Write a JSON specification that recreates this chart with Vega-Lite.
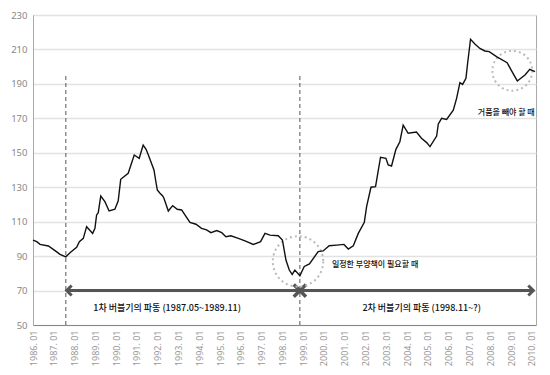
{
  "$schema": "https://vega.github.io/schema/vega-lite/v6.json",
  "width": 503,
  "height": 310,
  "autosize": "none",
  "padding": {"left": 33, "top": 15, "right": 14, "bottom": 50},
  "background": "white",
  "config": {
    "view": {"stroke": "#aaa", "strokeWidth": 1},
    "font": "Noto Sans CJK KR"
  },
  "datasets": {
    "main": [
      {"x":1986.0,"y":99.3},{"x":1986.18,"y":98.4},{"x":1986.34,"y":96.8},{"x":1986.74,"y":95.9},
      {"x":1987.06,"y":93.2},{"x":1987.3,"y":91.0},{"x":1987.58,"y":89.6},{"x":1987.78,"y":92.0},
      {"x":1988.1,"y":95.1},{"x":1988.23,"y":98.4},{"x":1988.42,"y":100.3},{"x":1988.58,"y":107.1},
      {"x":1988.87,"y":103.2},{"x":1988.98,"y":106.1},{"x":1989.06,"y":113.9},{"x":1989.14,"y":115.2},
      {"x":1989.26,"y":124.9},{"x":1989.46,"y":121.6},{"x":1989.66,"y":116.2},{"x":1989.94,"y":117.2},
      {"x":1990.1,"y":122.1},{"x":1990.22,"y":134.6},{"x":1990.58,"y":138.1},{"x":1990.87,"y":148.7},
      {"x":1991.11,"y":146.8},{"x":1991.3,"y":154.5},{"x":1991.44,"y":152.0},{"x":1991.55,"y":148.7},
      {"x":1991.82,"y":140.0},{"x":1991.92,"y":132.6},{"x":1991.98,"y":128.4},{"x":1992.11,"y":126.5},
      {"x":1992.24,"y":124.9},{"x":1992.3,"y":123.6},{"x":1992.51,"y":116.2},{"x":1992.72,"y":119.3},
      {"x":1992.94,"y":117.2},{"x":1993.15,"y":116.8},{"x":1993.31,"y":113.9},{"x":1993.55,"y":109.6},
      {"x":1993.84,"y":108.5},{"x":1994.11,"y":106.1},{"x":1994.35,"y":105.2},{"x":1994.56,"y":103.6},
      {"x":1994.84,"y":104.8},{"x":1995.08,"y":103.6},{"x":1995.28,"y":101.3},{"x":1995.52,"y":101.8},
      {"x":1995.88,"y":100.3},{"x":1996.2,"y":98.9},{"x":1996.6,"y":96.8},{"x":1996.95,"y":98.4},
      {"x":1997.16,"y":103.2},{"x":1997.4,"y":102.2},{"x":1997.8,"y":101.8},{"x":1998.0,"y":99.3},
      {"x":1998.17,"y":87.7},{"x":1998.33,"y":81.9},{"x":1998.47,"y":79.4},{"x":1998.6,"y":81.9},
      {"x":1998.84,"y":78.6},{"x":1999.05,"y":84.0},{"x":1999.3,"y":85.5},{"x":1999.72,"y":92.6},
      {"x":1999.96,"y":93.0},{"x":2000.25,"y":96.0},{"x":2000.61,"y":96.4},{"x":2000.96,"y":96.8},
      {"x":2001.17,"y":94.1},{"x":2001.41,"y":96.0},{"x":2001.65,"y":103.2},{"x":2001.94,"y":109.6},
      {"x":2002.05,"y":118.7},{"x":2002.26,"y":130.0},{"x":2002.48,"y":130.3},{"x":2002.72,"y":147.4},
      {"x":2002.98,"y":146.8},{"x":2003.09,"y":142.9},{"x":2003.25,"y":142.3},{"x":2003.46,"y":152.0},
      {"x":2003.65,"y":156.4},{"x":2003.81,"y":166.1},{"x":2004.05,"y":161.3},{"x":2004.45,"y":162.0},
      {"x":2004.69,"y":158.4},{"x":2004.94,"y":155.9},{"x":2005.1,"y":153.6},{"x":2005.42,"y":159.7},
      {"x":2005.5,"y":166.7},{"x":2005.66,"y":170.0},{"x":2005.9,"y":169.4},{"x":2006.22,"y":174.8},
      {"x":2006.38,"y":181.6},{"x":2006.54,"y":190.7},{"x":2006.67,"y":189.7},{"x":2006.83,"y":193.2},
      {"x":2006.91,"y":202.0},{"x":2007.05,"y":215.9},{"x":2007.26,"y":213.2},{"x":2007.5,"y":210.6},
      {"x":2007.74,"y":209.1},{"x":2007.95,"y":208.7},{"x":2008.3,"y":205.8},{"x":2008.81,"y":202.3},
      {"x":2009.02,"y":197.7},{"x":2009.3,"y":191.7},{"x":2009.67,"y":195.2},{"x":2009.9,"y":198.5},
      {"x":2010.15,"y":197.1}
    ],
    "vlines": [
      {"x":1987.58,"y":50,"y2":196},
      {"x":1998.84,"y":50,"y2":195.5}
    ],
    "arrow": [{"x":1987.62,"x2":2010.05,"y":70}],
    "leftHead": [{"x":1987.62,"y":70}],
    "rightHead": [{"x":2010.07,"y":70}],
    "cross": [{"x":1998.84,"y":70}],
    "circleA": [{"x":1998.75,"y":86.9}],
    "circleB": [{"x":2009.06,"y":197.6}],
    "bigText": [
      {"x":1992.45,"y":60,"label":"1차 버블기의 파동 (1987.05~1989.11)"},
      {"x":2004.7,"y":60,"label":"2차 버블기의 파동 (1998.11~?)"}
    ],
    "smallText": [
      {"x":2000.38,"y":84.8,"label":"일정한 부양책이 필요할 때"},
      {"x":2007.4,"y":173,"label":"거품을 빼야 할 때"}
    ]
  },
  "encoding": {
    "x": {
      "field": "x", "type": "quantitative",
      "scale": {"domain": [1986, 2010.2], "nice": false, "zero": false},
      "axis": {
        "title": null, "values": [1986,1987,1988,1989,1990,1991,1992,1993,1994,1995,1996,1997,1998,1999,2000,2001,2002,2003,2004,2005,2006,2007,2008,2009,2010],
        "labelExpr": "datum.value + '. 01'", "labelAngle": 270, "grid": false, "ticks": false,
        "domainColor": "#888", "labelColor": "#999", "labelFontSize": 9, "labelPadding": 5,
        "labelFont": "Noto Sans", "labelOverlap": false
      }
    },
    "y": {
      "field": "y", "type": "quantitative",
      "scale": {"domain": [50, 230], "nice": false, "zero": false},
      "axis": {
        "title": null, "values": [50,70,90,110,130,150,170,190,210,230], "grid": true,
        "gridColor": "#e2e2e2", "gridWidth": 1.5, "ticks": false, "domainColor": "#aaa",
        "labelColor": "#888", "labelFontSize": 9.5, "labelPadding": 6, "labelFont": "Noto Sans"
      }
    }
  },
  "layer": [
    {"data": {"name": "vlines"}, "mark": {"type": "rule", "color": "#555", "strokeWidth": 1, "strokeDash": [4, 3]},
     "encoding": {"y2": {"field": "y2"}}},
    {"data": {"name": "arrow"}, "mark": {"type": "rule", "color": "#555", "strokeWidth": 3},
     "encoding": {"x2": {"field": "x2"}}},
    {"data": {"name": "leftHead"}, "mark": {"type": "point", "shape": "M1,-1L0,0L1,1", "size": 100, "filled": false, "stroke": "#555", "strokeWidth": 3, "opacity": 1}, "encoding": {}},
    {"data": {"name": "rightHead"}, "mark": {"type": "point", "shape": "M-1,-1L0,0L-1,1", "size": 100, "filled": false, "stroke": "#555", "strokeWidth": 3, "opacity": 1}, "encoding": {}},
    {"data": {"name": "cross"}, "mark": {"type": "point", "shape": "M-1,-1L1,1M-1,1L1,-1", "size": 150, "filled": false, "stroke": "#555", "strokeWidth": 3.5, "opacity": 1}, "encoding": {}},
    {"data": {"name": "circleA"}, "mark": {"type": "point", "shape": "circle", "size": 2550, "filled": false, "stroke": "#bbb", "strokeWidth": 2, "strokeDash": [2, 3], "opacity": 1}, "encoding": {}},
    {"data": {"name": "circleB"}, "mark": {"type": "point", "shape": "circle", "size": 1590, "filled": false, "stroke": "#bbb", "strokeWidth": 2, "strokeDash": [2, 3], "opacity": 1}, "encoding": {}},
    {"data": {"name": "main"}, "mark": {"type": "line", "color": "#111", "strokeWidth": 1.4}, "encoding": {}},
    {"data": {"name": "bigText"}, "mark": {"type": "text", "align": "center", "baseline": "middle", "fontSize": 9, "color": "#111", "font": "Noto Sans CJK KR", "fontWeight": 500},
     "encoding": {"text": {"field": "label"}}},
    {"data": {"name": "smallText"}, "mark": {"type": "text", "align": "left", "baseline": "middle", "fontSize": 8, "color": "#111", "font": "Noto Sans CJK KR", "fontWeight": 500},
     "encoding": {"text": {"field": "label"}}}
  ]
}
